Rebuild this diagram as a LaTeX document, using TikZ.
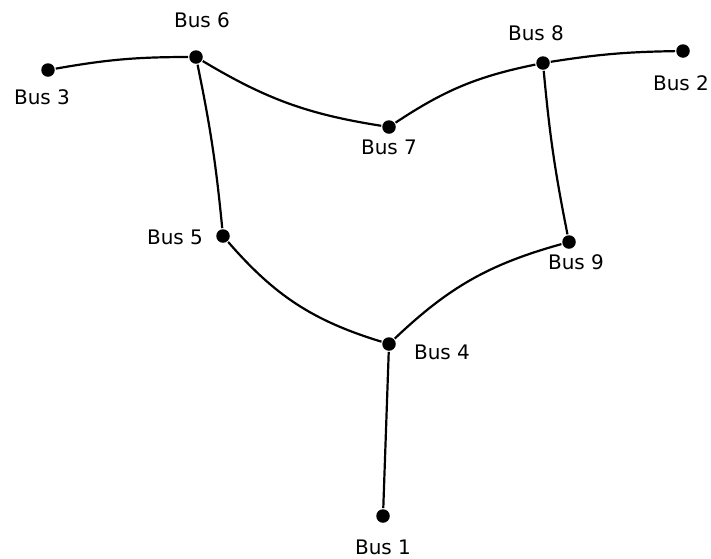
\documentclass[tikz,border=0pt]{standalone}
\usepackage{fontspec}
\setmainfont{DejaVu Sans}
\usepackage{tikz}
\usetikzlibrary{positioning}

\begin{document}
\begin{tikzpicture}[x=1pt, y=-1pt, line width=2.2pt,
                bus/.style={circle, fill=black, inner sep=0pt, minimum size=13.5pt},
                busname/.style={font=\fontsize{20}{23}\selectfont, inner sep=0pt}]

                \useasboundingbox (0,0) rectangle (711,558);

                % buses
                \node[bus] (b1) at (383,516) {};
                \node[bus] (b2) at (683,51) {};
                \node[bus] (b3) at (48,70) {};
                \node[bus] (b4) at (389,344) {};
                \node[bus] (b5) at (223,236) {};
                \node[bus] (b6) at (196,57) {};
                \node[bus] (b7) at (389,127) {};
                \node[bus] (b8) at (543,63) {};
                \node[bus] (b9) at (569,242) {};

                % names
                \node[busname] (n1) at (383,547) {Bus 1};
                \node[busname] (n2) at (681,83) {Bus 2};
                \node[busname] (n3) at (42,97) {Bus 3};
                \node[busname] (n4) at (442,352) {Bus 4};
                \node[busname] (n5) at (175,237) {Bus 5};
                \node[busname] (n6) at (202,20) {Bus 6};
                \node[busname] (n7) at (389,147) {Bus 7};
                \node[busname] (n8) at (536,33) {Bus 8};
                \node[busname] (n9) at (576,262) {Bus 9};

                % lines
                \path[draw]
                (b3) edge [bend left=5] (b6)
                (b6) edge [bend right=11] (b7)
                     edge [bend left=3] (b5)
                (b7) edge [bend left=11] (b8)
                (b8) edge [bend left=4] (b2)
                     edge [bend right=3] (b9)
                (b5) edge [bend right=16] (b4)
                (b4) edge [bend left=14] (b9)
                     edge (b1);
\end{tikzpicture}
\end{document}
